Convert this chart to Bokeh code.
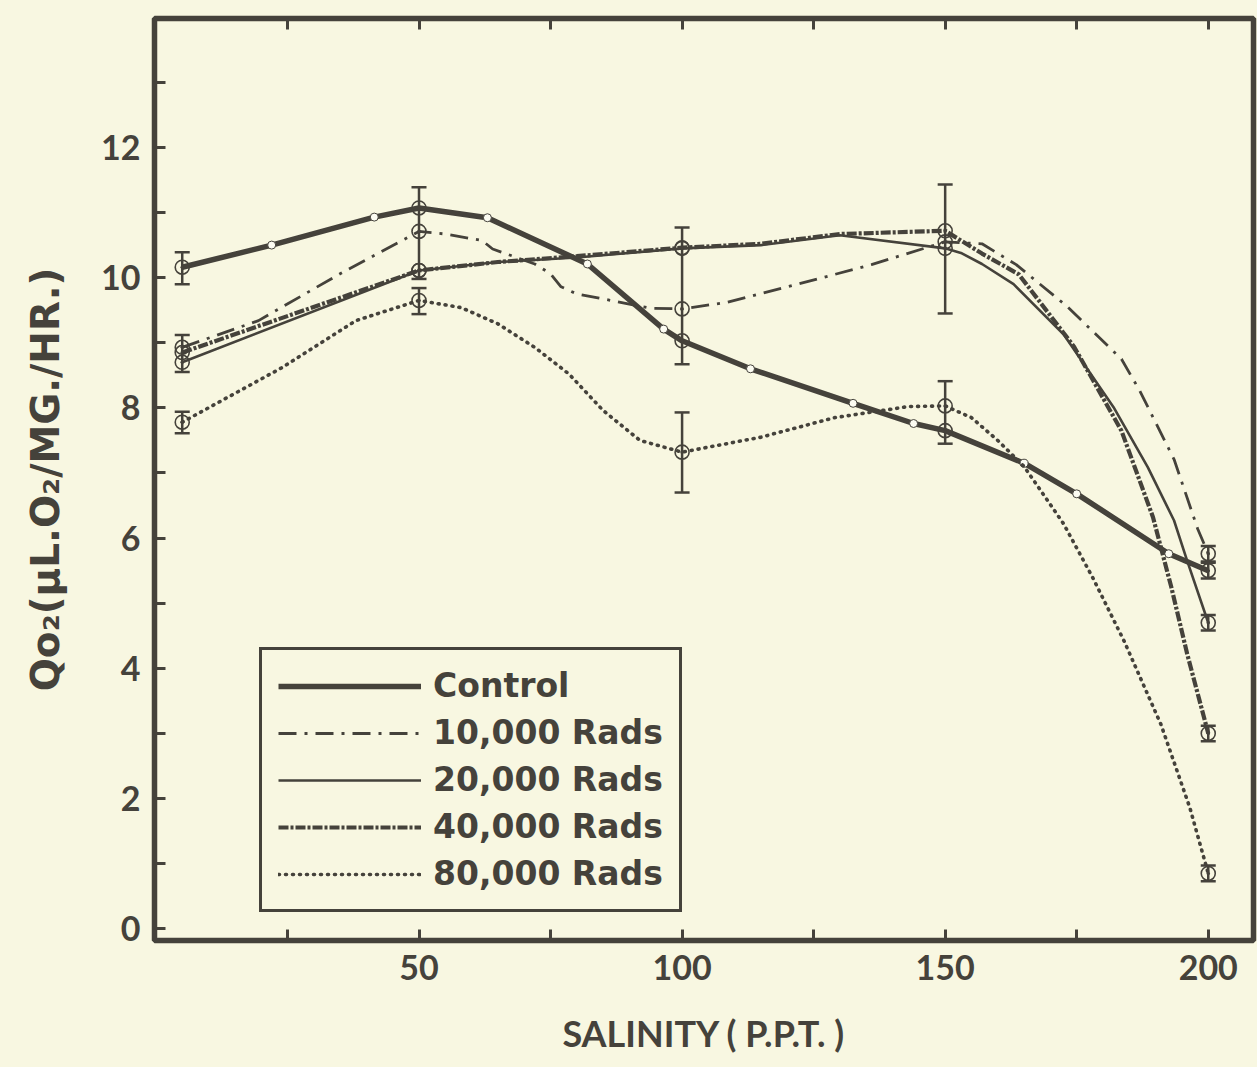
import re
from bokeh.plotting import figure
from bokeh.models import (Range1d, FixedTicker, LinearAxis, Legend, LegendItem,
                          ColumnDataSource, Whisker, TeeHead)
from bokeh.embed import file_html
from bokeh.resources import INLINE

# ---------------- data ----------------
salinity = [5, 50, 100, 150, 200]

control_mean = [10.16, 11.07, 9.03, 7.65, 5.50]
control_lo = [9.90, 9.98, 8.67, None, 5.38]
control_hi = [10.39, 11.39, 10.77, None, 5.62]

r10k_mean = [8.93, 10.71, 9.52, 10.55, 5.76]
r10k_lo = [8.55, None, None, None, 5.64]
r10k_hi = [9.12, None, None, None, 5.88]

r20k_mean = [8.70, 10.11, 10.45, 10.45, 4.70]
r20k_lo = [None, None, None, 9.45, 4.58]
r20k_hi = [None, None, None, 11.43, 4.82]

r40k_mean = [8.85, 10.11, 10.46, 10.72, 3.00]
r40k_lo = [None, None, None, None, 2.88]
r40k_hi = [None, None, None, None, 3.12]

r80k_mean = [7.78, 9.65, 7.32, 8.03, 0.85]
r80k_lo = [7.61, 9.44, 6.70, 7.45, 0.73]
r80k_hi = [7.94, 9.84, 7.93, 8.41, 0.97]

# traced curves (as drawn in the figure)
control_x = [5, 22, 41.5, 50, 63, 82, 96.5, 100, 113, 132.5, 144, 150, 165, 175, 192.5, 200]
control_y = [10.16, 10.50, 10.93, 11.07, 10.92, 10.21, 9.21, 9.03, 8.60, 8.07, 7.76, 7.65,
             7.15, 6.68, 5.76, 5.50]

r10k_x = [5, 19.5, 35, 50, 55, 62, 64, 72, 75, 77, 80, 84, 94, 100, 108.5, 122, 136, 150,
          157, 163.5, 173, 183.5, 187, 193.5, 198, 200]
r10k_y = [8.93, 9.34, 10.06, 10.71, 10.67, 10.57, 10.44, 10.21, 10.06, 9.86, 9.75, 9.69,
          9.53, 9.52, 9.62, 9.90, 10.20, 10.55, 10.52, 10.20, 9.57, 8.75, 8.26, 7.21, 6.14, 5.76]

r20k_x = [5, 50, 65, 80, 100, 115, 130, 150, 153, 157, 163, 172.5, 182, 188.5, 193.5, 196, 200]
r20k_y = [8.70, 10.11, 10.24, 10.31, 10.45, 10.50, 10.65, 10.45, 10.38, 10.21, 9.90, 9.13,
          8.01, 7.09, 6.27, 5.65, 4.70]

r40k_x = [5, 50, 65, 80, 100, 115, 130, 150, 157, 164, 174.5, 183.5, 189.5, 193, 196, 200]
r40k_y = [8.85, 10.11, 10.24, 10.33, 10.46, 10.52, 10.67, 10.72, 10.37, 10.05, 8.94, 7.65,
          6.32, 5.24, 4.22, 3.00]

r80k_x = [5, 24, 38, 50, 58, 65, 72, 78.5, 85, 92, 100, 115, 129, 143, 150, 155, 160, 165,
          172.5, 178, 184, 191, 196.5, 200]
r80k_y = [7.78, 8.62, 9.34, 9.65, 9.54, 9.29, 8.93, 8.52, 7.96, 7.50, 7.32, 7.55, 7.85, 8.02,
          8.03, 7.85, 7.50, 7.10, 6.22, 5.40, 4.42, 3.14, 1.86, 0.85]

x_major = [50, 100, 150, 200]
x_minor = [25, 75, 125, 175]
y_major = [0, 2, 4, 6, 8, 10, 12]
y_minor = [1, 3, 5, 7, 9, 11, 13]

labels = ["Control", "10,000 Rads", "20,000 Rads", "40,000 Rads", "80,000 Rads"]

# ---------------- styling ----------------
ink = "#45423b"
paper = "#f8f7e1"
tick_font = "Lato"
text_font = "DejaVu Sans"

p = figure(width=1257, height=1067, output_backend="svg", toolbar_location=None,
           x_range=Range1d(-0.27, 208.6), y_range=Range1d(-0.18, 13.98),
           min_border_left=154, min_border_right=4, min_border_top=18, min_border_bottom=127)
p.background_fill_color = paper
p.border_fill_color = paper
p.grid.visible = False
p.outline_line_color = ink
p.outline_line_width = 5.5
p.outline_line_alpha = 1.0

xa = p.xaxis[0]
xa.ticker = FixedTicker(ticks=x_major, minor_ticks=x_minor)
ya = p.yaxis[0]
ya.ticker = FixedTicker(ticks=y_major, minor_ticks=y_minor)
for ax in (xa, ya):
    ax.axis_line_color = None
    ax.major_tick_in = 11
    ax.major_tick_out = 0
    ax.minor_tick_in = 11
    ax.minor_tick_out = 0
    ax.major_tick_line_color = ink
    ax.minor_tick_line_color = ink
    ax.major_tick_line_width = 3
    ax.minor_tick_line_width = 3
    ax.major_label_text_font = tick_font
    ax.major_label_text_font_style = "bold"
    ax.major_label_text_font_size = "34px"
    ax.major_label_text_color = ink
    ax.axis_label_text_color = ink
    ax.axis_label_text_font_style = "bold"

xa.axis_label = "SALINITY ( P.P.T. )"
xa.axis_label_text_font = tick_font
xa.axis_label_text_font_size = "36px"
xa.major_label_standoff = 14
xa.axis_label_standoff = 28
ya.axis_label = "Qo\u2082(\u03bcL.O\u2082/MG./HR.)"
ya.axis_label_text_font = text_font
ya.axis_label_text_font_size = "39px"
ya.major_label_standoff = 14
ya.axis_label_standoff = 30

top = LinearAxis(ticker=FixedTicker(ticks=x_major, minor_ticks=x_minor),
                 axis_line_color=None, major_tick_in=11, major_tick_out=0,
                 minor_tick_in=11, minor_tick_out=0,
                 major_tick_line_color=ink, minor_tick_line_color=ink,
                 major_tick_line_width=3, minor_tick_line_width=3,
                 major_label_overrides={t: "" for t in x_major},
                 major_label_text_font_size="0px", major_label_standoff=0)
p.add_layout(top, "above")

# ---------------- curves ----------------
r_ctrl = p.line(control_x, control_y, line_color=ink, line_width=5.5, line_join="round")
ctrl_mid_x = [x for x in control_x if x not in salinity]
ctrl_mid_y = [y for x, y in zip(control_x, control_y) if x not in salinity]
p.scatter(ctrl_mid_x, ctrl_mid_y, marker="circle", size=8, fill_color="#fcfcf2",
          line_color=ink, line_width=1)

r_10 = p.line(r10k_x, r10k_y, line_color=ink, line_width=2.8, line_dash="18 8 3 8")
r_20 = p.line(r20k_x, r20k_y, line_color=ink, line_width=2.6)
r_40 = p.line(r40k_x, r40k_y, line_color=ink, line_width=4.2, line_dash="10 2 3 2")
r_80 = p.line(r80k_x, r80k_y, line_color=ink, line_width=3.6, line_dash="1 6",
              line_cap="round")

# ---------------- measured points and error bars ----------------
base, lo, hi = [], [], []
for means, los, his in [(control_mean, control_lo, control_hi), (r10k_mean, r10k_lo, r10k_hi),
                        (r20k_mean, r20k_lo, r20k_hi), (r40k_mean, r40k_lo, r40k_hi),
                        (r80k_mean, r80k_lo, r80k_hi)]:
    for s, l, h in zip(salinity, los, his):
        if l is not None:
            base.append(s)
            lo.append(l)
            hi.append(h)
wsrc = ColumnDataSource(dict(base=base, lower=lo, upper=hi))
p.add_layout(Whisker(source=wsrc, base="base", lower="lower", upper="upper",
                     line_color=ink, line_width=2.5,
                     upper_head=TeeHead(size=15, line_color=ink, line_width=2.5),
                     lower_head=TeeHead(size=15, line_color=ink, line_width=2.5)))

for means in (control_mean, r10k_mean, r20k_mean, r40k_mean, r80k_mean):
    p.scatter(salinity, means, marker="circle_dot", size=14, fill_color=paper,
              fill_alpha=0.0, line_color=ink, line_width=1.6)

# ---------------- legend ----------------
legend = Legend(items=[LegendItem(label=labels[0], renderers=[r_ctrl]),
                       LegendItem(label=labels[1], renderers=[r_10]),
                       LegendItem(label=labels[2], renderers=[r_20]),
                       LegendItem(label=labels[3], renderers=[r_40]),
                       LegendItem(label=labels[4], renderers=[r_80])],
                location=(105, 28), orientation="vertical",
                glyph_width=143, glyph_height=36, label_height=36, spacing=8,
                padding=16, margin=0, label_standoff=12,
                label_text_font=text_font, label_text_font_style="bold",
                label_text_font_size="33px", label_text_color=ink,
                border_line_color=ink, border_line_width=3, border_line_alpha=1.0,
                background_fill_color=paper, background_fill_alpha=1.0)
p.add_layout(legend, "center")

html = file_html(p, INLINE)
style = ("<style>html, body { margin: 0 !important; padding: 0 !important; "
         "background-color: %s !important; }</style>" % paper)
html = html.replace("</head>", style + "\n</head>", 1)
open("out.html", "w").write(html)
